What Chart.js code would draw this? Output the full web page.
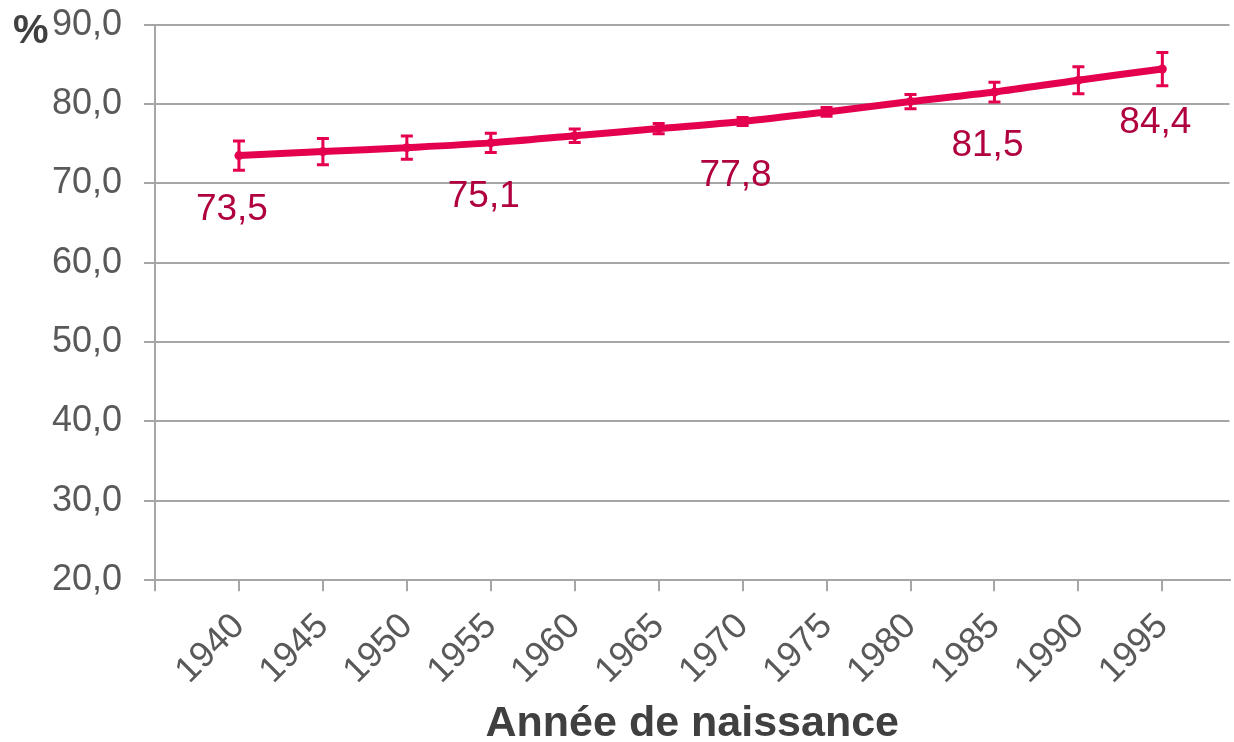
<!DOCTYPE html>
<html>
<head>
<meta charset="utf-8">
<script src="https://cdn.jsdelivr.net/npm/chart.js@4"></script>
<style>
  html, body { margin: 0; padding: 0; background: #fff; }
  #wrap { width: 1234px; height: 742px; }
</style>
</head>
<body>
<div id="wrap"><canvas id="myChart"></canvas></div>
<script>
const years = [1940, 1945, 1950, 1955, 1960, 1965, 1970, 1975, 1980, 1985, 1990, 1995]
const values = [73.5, 74.0, 74.5, 75.1, 76.0, 76.9, 77.8, 79.0, 80.3, 81.5, 83.0, 84.4]
const errors = [1.85, 1.65, 1.45, 1.2, 0.85, 0.65, 0.5, 0.55, 0.9, 1.25, 1.7, 2.1]
const labelledYears = [1940, 1955, 1970, 1985, 1995]
const yTicks = [20, 30, 40, 50, 60, 70, 80, 90]

const lineColor = '#E4004F'
const labelColor = '#B0003F'
const gridColor = '#A6A6A6'
const textColor = '#595959'
const fontFamily = '"Liberation Sans", Arial, sans-serif'

const fmt = (v) => v.toFixed(1).replace('.', ',')

// error bars + value labels + the "%" unit
const extras = {
    id: 'extras',
    afterDatasetsDraw(chart) {
        const ctx = chart.ctx
        const x = chart.scales.x
        const y = chart.scales.y
        ctx.save()
        ctx.strokeStyle = lineColor
        ctx.lineWidth = 3
        years.forEach((yr, i) => {
            const px = x.getPixelForValue(yr)
            const top = y.getPixelForValue(values[i] + errors[i])
            const bot = y.getPixelForValue(values[i] - errors[i])
            ctx.beginPath()
            ctx.moveTo(px, top); ctx.lineTo(px, bot)
            ctx.moveTo(px - 6, top); ctx.lineTo(px + 6, top)
            ctx.moveTo(px - 6, bot); ctx.lineTo(px + 6, bot)
            ctx.stroke()
        })

        ctx.fillStyle = labelColor
        ctx.font = '37px ' + fontFamily
        ctx.textAlign = 'center'
        ctx.textBaseline = 'middle'
        years.forEach((yr, i) => {
            if (!labelledYears.includes(yr)) return
            const px = x.getPixelForValue(yr)
            const py = y.getPixelForValue(values[i])
            ctx.fillText(fmt(values[i]), px - 7, py + 54)
        })

        ctx.fillStyle = '#404040'
        ctx.font = 'bold 40px ' + fontFamily
        ctx.textAlign = 'left'
        ctx.textBaseline = 'middle'
        ctx.fillText('%', 13, chart.chartArea.top + 7)
        ctx.restore()
    }
}

const ctx = document.getElementById('myChart').getContext('2d')

const myChart = new Chart(ctx, {
    type: 'line',
    data: {
        datasets: [{
            data: years.map((yr, i) => ({ x: yr, y: values[i] })),
            borderColor: lineColor,
            backgroundColor: lineColor,
            borderWidth: 7,
            pointRadius: 4.5,
            pointBorderWidth: 0,
            tension: 0.3,
            fill: false
        }]
    },
    options: {
        responsive: true,
        maintainAspectRatio: false,
        animation: false,
        layout: { padding: { top: 0, right: 2, left: 52, bottom: 0 } },
        plugins: {
            legend: { display: false },
            tooltip: { enabled: false }
        },
        scales: {
            x: {
                type: 'linear',
                min: 1935,
                max: 1999,
                afterBuildTicks: (axis) => {
                    axis.ticks = [1935, ...years].map(v => ({ value: v }))
                },
                ticks: {
                    autoSkip: false,
                    minRotation: 45,
                    maxRotation: 45,
                    padding: 14,
                    color: textColor,
                    font: { family: fontFamily, size: 36 },
                    callback: (v) => v === 1935 ? '' : String(v)
                },
                grid: {
                    display: true,
                    drawOnChartArea: false,
                    drawTicks: true,
                    tickLength: 11,
                    color: gridColor,
                    lineWidth: 2
                },
                border: { display: true, color: gridColor, width: 2 },
                title: {
                    display: true,
                    text: 'Année de naissance',
                    color: '#404040',
                    font: { family: fontFamily, size: 43, weight: 'bold' },
                    padding: { top: -8, bottom: -8 }
                }
            },
            y: {
                min: 20,
                max: 90,
                afterBuildTicks: (axis) => {
                    axis.ticks = yTicks.map(v => ({ value: v }))
                },
                // labels sit at the far left of a widened axis box
                afterFit: (axis) => {
                    axis.width = 103
                },
                ticks: {
                    padding: 3,
                    crossAlign: 'far',
                    color: textColor,
                    font: { family: fontFamily, size: 36 },
                    callback: (v) => fmt(v)
                },
                grid: {
                    color: gridColor,
                    lineWidth: 2,
                    tickLength: 11
                },
                border: { display: true, color: gridColor, width: 2 }
            }
        }
    },
    plugins: [extras]
})
</script>
</body>
</html>
